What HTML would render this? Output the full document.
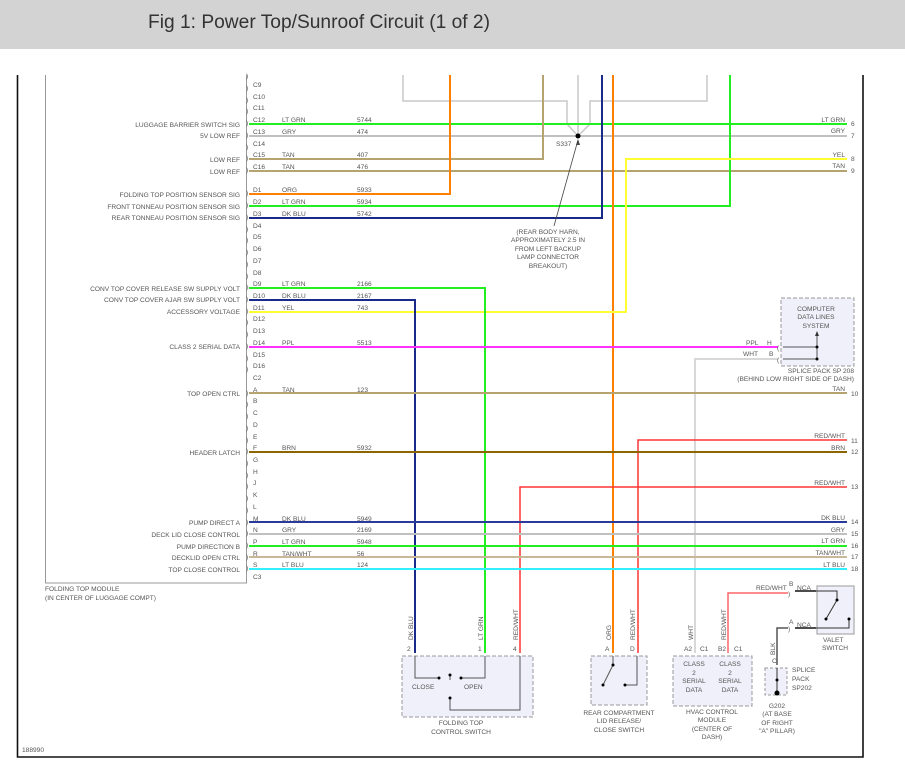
<!DOCTYPE html>
<html><head><meta charset="utf-8"><style>
html,body{margin:0;padding:0;background:#fff;}
svg{display:block;font-family:"Liberation Sans",sans-serif;}
.t{font-size:6.6px;fill:#555;}
</style></head><body>
<svg width="905" height="776" viewBox="0 0 905 776">
<rect x="0" y="0" width="905" height="49" fill="#d3d3d3"/>
<text x="148" y="28" font-size="19" fill="#333" textLength="342" lengthAdjust="spacingAndGlyphs">Fig 1: Power Top/Sunroof Circuit (1 of 2)</text>

<path d="M17.5 75 V757 H863 V75" fill="none" stroke="#111" stroke-width="1.6"/>
<path d="M45.5 75 V583 H246.5 V75" fill="none" stroke="#999" stroke-width="1"/>

<g fill="none" stroke="#c8c8c8" stroke-width="1.5">
<path d="M403 75 V101 H567 V124 L578 136"/>
<path d="M578 75 V136"/>
<path d="M707 75 V101 H590 V124 L578 136"/>
</g>

<g fill="none" stroke-width="2">
<path d="M249 124 H847" stroke="#22ee22"/>
<path d="M249 136 H847" stroke="#c0c0c0"/>
<path d="M249 159 H543 V75" stroke="#b5a470"/>
<path d="M249 171 H847" stroke="#b5a470"/>
<path d="M249 194 H450 V75" stroke="#ff8000"/>
<path d="M249 206 H730 V75" stroke="#22ee22"/>
<path d="M249 218 H602 V75" stroke="#1a2a8a"/>
<path d="M613 75 V653" stroke="#ff8000"/>
<path d="M847 159 H626 V312 H249" stroke="#ffff33"/>
<path d="M249 288 H485 V653" stroke="#22ee22"/>
<path d="M249 300 H415 V653" stroke="#1a2a8a"/>
<path d="M249 347 H778" stroke="#ff33ff"/>
<path d="M778 359 H695 V653" stroke="#d8d8d8"/>
<path d="M249 393 H847" stroke="#b5a470"/>
<path d="M847 440 H638 V653" stroke="#ff3333" stroke-width="1.5"/>
<path d="M249 452 H847" stroke="#8c6400"/>
<path d="M847 487 H520 V653" stroke="#ff3333" stroke-width="1.5"/>
<path d="M249 522 H847" stroke="#2a3a9a"/>
<path d="M249 534 H847" stroke="#c0c0c0"/>
<path d="M249 546 H847" stroke="#22ee22"/>
<path d="M249 557 H847" stroke="#c8b898"/>
<path d="M249 569 H847" stroke="#33eeff"/>
<path d="M728 653 V593 H788" stroke="#ff6666" stroke-width="1.5"/>
<path d="M795 591 H817 M795 628 H817" stroke="#111" stroke-width="1.5"/>
<path d="M788 628 H777 V665" stroke="#555" stroke-width="1.5"/>
</g>

<circle cx="578" cy="136" r="2.5" fill="#000"/>
<text class="t" x="556" y="146">S337</text>
<path d="M554 226 L578 140" stroke="#444" stroke-width="0.8"/>
<path d="M578 139 l-2 6 h4z" fill="#444"/>
<g class="t" text-anchor="middle">
<text x="548" y="234">(REAR BODY HARN,</text>
<text x="548" y="242">APPROXIMATELY 2.5 IN</text>
<text x="548" y="251">FROM LEFT BACKUP</text>
<text x="548" y="259">LAMP CONNECTOR</text>
<text x="548" y="268">BREAKOUT)</text>
</g>

<g class="t">
<text x="253" y="87">C9</text><text x="253" y="99">C10</text><text x="253" y="110">C11</text>
<text x="253" y="122">C12</text><text x="253" y="134">C13</text><text x="253" y="146">C14</text>
<text x="253" y="157">C15</text><text x="253" y="169">C16</text>
<text x="253" y="192">D1</text><text x="253" y="204">D2</text><text x="253" y="216">D3</text>
<text x="253" y="228">D4</text><text x="253" y="239">D5</text><text x="253" y="251">D6</text>
<text x="253" y="263">D7</text><text x="253" y="275">D8</text><text x="253" y="286">D9</text>
<text x="253" y="298">D10</text><text x="253" y="310">D11</text><text x="253" y="321">D12</text>
<text x="253" y="333">D13</text><text x="253" y="345">D14</text><text x="253" y="357">D15</text>
<text x="253" y="368">D16</text><text x="253" y="380">C2</text>
<text x="253" y="392">A</text><text x="253" y="403">B</text><text x="253" y="415">C</text>
<text x="253" y="427">D</text><text x="253" y="439">E</text><text x="253" y="450">F</text>
<text x="253" y="462">G</text><text x="253" y="474">H</text><text x="253" y="485">J</text>
<text x="253" y="497">K</text><text x="253" y="509">L</text><text x="253" y="521">M</text>
<text x="253" y="532">N</text><text x="253" y="544">P</text><text x="253" y="556">R</text>
<text x="253" y="567">S</text><text x="253" y="579">C3</text>
</g>
<g class="t" fill="#888">
<text x="246" y="78">)</text>
<text x="246" y="90">)</text><text x="246" y="102">)</text><text x="246" y="113">)</text>
<text x="246" y="125">)</text><text x="246" y="137">)</text><text x="246" y="149">)</text>
<text x="246" y="160">)</text><text x="246" y="172">)</text><text x="246" y="195">)</text>
<text x="246" y="207">)</text><text x="246" y="219">)</text><text x="246" y="231">)</text>
<text x="246" y="242">)</text><text x="246" y="254">)</text><text x="246" y="266">)</text>
<text x="246" y="278">)</text><text x="246" y="289">)</text><text x="246" y="301">)</text>
<text x="246" y="313">)</text><text x="246" y="324">)</text><text x="246" y="336">)</text>
<text x="246" y="348">)</text><text x="246" y="360">)</text><text x="246" y="371">)</text>
<text x="246" y="395">)</text><text x="246" y="406">)</text><text x="246" y="418">)</text>
<text x="246" y="430">)</text><text x="246" y="442">)</text><text x="246" y="453">)</text>
<text x="246" y="465">)</text><text x="246" y="477">)</text><text x="246" y="488">)</text>
<text x="246" y="500">)</text><text x="246" y="512">)</text><text x="246" y="524">)</text>
<text x="246" y="535">)</text><text x="246" y="547">)</text><text x="246" y="559">)</text>
<text x="246" y="570">)</text>
</g>

<g class="t">
<text x="282" y="122">LT GRN</text><text x="357" y="122">5744</text>
<text x="282" y="134">GRY</text><text x="357" y="134">474</text>
<text x="282" y="157">TAN</text><text x="357" y="157">407</text>
<text x="282" y="169">TAN</text><text x="357" y="169">476</text>
<text x="282" y="192">ORG</text><text x="357" y="192">5933</text>
<text x="282" y="204">LT GRN</text><text x="357" y="204">5934</text>
<text x="282" y="216">DK BLU</text><text x="357" y="216">5742</text>
<text x="282" y="286">LT GRN</text><text x="357" y="286">2166</text>
<text x="282" y="298">DK BLU</text><text x="357" y="298">2167</text>
<text x="282" y="310">YEL</text><text x="357" y="310">743</text>
<text x="282" y="345">PPL</text><text x="357" y="345">5513</text>
<text x="282" y="392">TAN</text><text x="357" y="392">123</text>
<text x="282" y="450">BRN</text><text x="357" y="450">5932</text>
<text x="282" y="521">DK BLU</text><text x="357" y="521">5949</text>
<text x="282" y="532">GRY</text><text x="357" y="532">2169</text>
<text x="282" y="544">LT GRN</text><text x="357" y="544">5948</text>
<text x="282" y="556">TAN/WHT</text><text x="357" y="556">56</text>
<text x="282" y="567">LT BLU</text><text x="357" y="567">124</text>
</g>

<g class="t" text-anchor="end">
<text x="240" y="127">LUGGAGE BARRIER SWITCH SIG</text>
<text x="240" y="138">5V LOW REF</text>
<text x="240" y="162">LOW REF</text>
<text x="240" y="174">LOW REF</text>
<text x="240" y="197">FOLDING TOP POSITION SENSOR SIG</text>
<text x="240" y="209">FRONT TONNEAU POSITION SENSOR SIG</text>
<text x="240" y="220">REAR TONNEAU POSITION SENSOR SIG</text>
<text x="240" y="291">CONV TOP COVER RELEASE SW SUPPLY VOLT</text>
<text x="240" y="302">CONV TOP COVER AJAR SW SUPPLY VOLT</text>
<text x="240" y="314">ACCESSORY VOLTAGE</text>
<text x="240" y="349">CLASS 2 SERIAL DATA</text>
<text x="240" y="396">TOP OPEN CTRL</text>
<text x="240" y="455">HEADER LATCH</text>
<text x="240" y="525">PUMP DIRECT A</text>
<text x="240" y="537">DECK LID CLOSE CONTROL</text>
<text x="240" y="549">PUMP DIRECTION B</text>
<text x="240" y="560">DECKLID OPEN CTRL</text>
<text x="240" y="572">TOP CLOSE CONTROL</text>
</g>
<text class="t" x="45" y="591">FOLDING TOP MODULE</text>
<text class="t" x="45" y="600">(IN CENTER OF LUGGAGE COMPT)</text>
<text class="t" x="22" y="752" font-size="6">188990</text>

<g class="t" text-anchor="end">
<text x="845" y="122">LT GRN</text><text x="845" y="133">GRY</text>
<text x="845" y="157">YEL</text><text x="845" y="168">TAN</text>
<text x="845" y="391">TAN</text><text x="845" y="438">RED/WHT</text>
<text x="845" y="450">BRN</text><text x="845" y="485">RED/WHT</text>
<text x="845" y="520">DK BLU</text><text x="845" y="532">GRY</text>
<text x="845" y="543">LT GRN</text><text x="845" y="555">TAN/WHT</text>
<text x="845" y="567">LT BLU</text>
</g>
<g class="t">
<text x="851" y="126">6</text><text x="851" y="138">7</text><text x="851" y="161">8</text><text x="851" y="173">9</text>
<text x="851" y="396">10</text><text x="851" y="443">11</text><text x="851" y="454">12</text><text x="851" y="489">13</text>
<text x="851" y="524">14</text><text x="851" y="536">15</text><text x="851" y="548">16</text><text x="851" y="559">17</text><text x="851" y="571">18</text>
</g>

<rect x="781" y="298" width="73" height="68" fill="#f0f0fa" stroke="#999" stroke-dasharray="4,2"/>
<g class="t" text-anchor="middle">
<text x="816" y="311">COMPUTER</text><text x="816" y="319">DATA LINES</text><text x="816" y="328">SYSTEM</text>
</g>
<path d="M783 347 H817 M783 359 H817 V333" stroke="#555" fill="none"/>
<path d="M817 331 l-2 5 h4z" fill="#333"/>
<circle cx="817" cy="347" r="1.5" fill="#000"/><circle cx="817" cy="359" r="1.5" fill="#000"/>
<text class="t" x="746" y="345">PPL</text><text class="t" x="767" y="345">H</text>
<text class="t" x="743" y="356">WHT</text><text class="t" x="769" y="356">B</text>
<text class="t" x="777" y="350">(</text><text class="t" x="777" y="362">(</text>
<text class="t" x="854" y="373" text-anchor="end">SPLICE PACK SP 208</text>
<text class="t" x="854" y="381" text-anchor="end">(BEHIND LOW RIGHT SIDE OF DASH)</text>

<rect x="402" y="656" width="131" height="61" fill="#f0f0fa" stroke="#999" stroke-dasharray="4,2"/>
<g fill="none" stroke="#555">
<path d="M415 656 V678 H439"/><path d="M461 678 H485 V656"/>
<path d="M450 675 V680"/><path d="M450 698 V710 H520 V656"/>
</g>
<g fill="#000"><circle cx="439" cy="678" r="1.5"/><circle cx="461" cy="678" r="1.5"/><circle cx="450" cy="675" r="1.5"/><circle cx="450" cy="698" r="1.5"/></g>
<text class="t" x="412" y="689">CLOSE</text><text class="t" x="464" y="689">OPEN</text>
<g class="t"><text x="407" y="651">2</text><text x="478" y="651">1</text><text x="513" y="651">4</text></g>
<g class="t"><text transform="translate(413,640) rotate(-90)">DK BLU</text><text transform="translate(483,640) rotate(-90)">LT GRN</text><text transform="translate(518,640) rotate(-90)">RED/WHT</text></g>
<text class="t" x="461" y="725" text-anchor="middle">FOLDING TOP</text>
<text class="t" x="461" y="734" text-anchor="middle">CONTROL SWITCH</text>

<rect x="591" y="656" width="56" height="49" fill="#f0f0fa" stroke="#999" stroke-dasharray="4,2"/>
<path d="M613 656 V665 L603 685 M637 656 V685 H625" stroke="#555" fill="none"/>
<g fill="#000"><circle cx="613" cy="665" r="1.5"/><circle cx="603" cy="685" r="1.5"/><circle cx="625" cy="685" r="1.5"/></g>
<g class="t"><text x="605" y="651">A</text><text x="630" y="651">D</text>
<text transform="translate(611,640) rotate(-90)">ORG</text><text transform="translate(635,640) rotate(-90)">RED/WHT</text></g>
<g class="t" text-anchor="middle"><text x="619" y="715">REAR COMPARTMENT</text><text x="619" y="723">LID RELEASE/</text><text x="619" y="732">CLOSE SWITCH</text></g>

<rect x="673" y="656" width="79" height="50" fill="#f0f0fa" stroke="#999" stroke-dasharray="4,2"/>
<g class="t" text-anchor="middle">
<text x="694" y="666">CLASS</text><text x="694" y="675">2</text><text x="694" y="683">SERIAL</text><text x="694" y="692">DATA</text>
<text x="730" y="666">CLASS</text><text x="730" y="675">2</text><text x="730" y="683">SERIAL</text><text x="730" y="692">DATA</text>
<text x="712" y="714">HVAC CONTROL</text><text x="712" y="722">MODULE</text><text x="712" y="731">(CENTER OF</text><text x="712" y="739">DASH)</text>
</g>
<g class="t"><text x="684" y="651">A2</text><text x="700" y="651">C1</text><text x="718" y="651">B2</text><text x="734" y="651">C1</text>
<text transform="translate(693,640) rotate(-90)">WHT</text><text transform="translate(726,640) rotate(-90)">RED/WHT</text></g>

<rect x="817" y="586" width="37" height="48" fill="#f0f0fa" stroke="#aaa" stroke-width="1.2"/>
<path d="M817 591 H837 V600 L826 619 M849 619 V628 H817" stroke="#333" fill="none"/>
<g fill="#000"><circle cx="837" cy="600" r="1.5"/><circle cx="826" cy="619" r="1.5"/><circle cx="849" cy="619" r="1.5"/></g>
<g class="t"><text x="756" y="590">RED/WHT</text><text x="789" y="586">B</text><text x="797" y="590">NCA</text>
<text x="789" y="624">A</text><text x="797" y="627">NCA</text><text x="788" y="596">)</text><text x="788" y="631">)</text>
<text x="823" y="642">VALET</text><text x="822" y="650">SWITCH</text>
<text transform="translate(775,655) rotate(-90)">BLK</text><text x="772" y="663">C</text></g>

<rect x="765" y="668" width="22" height="27" fill="#f0f0fa" stroke="#999" stroke-dasharray="3,2"/>
<path d="M777 668 V693" stroke="#333"/>
<circle cx="777" cy="680" r="1.5" fill="#000"/><circle cx="777" cy="693" r="2.5" fill="#000"/>
<g class="t"><text x="792" y="672">SPLICE</text><text x="792" y="681">PACK</text><text x="792" y="690">SP202</text></g>
<g class="t" text-anchor="middle"><text x="777" y="708">G202</text><text x="777" y="716">(AT BASE</text><text x="777" y="725">OF RIGHT</text><text x="777" y="733">"A" PILLAR)</text></g>
</svg>
</body></html>
